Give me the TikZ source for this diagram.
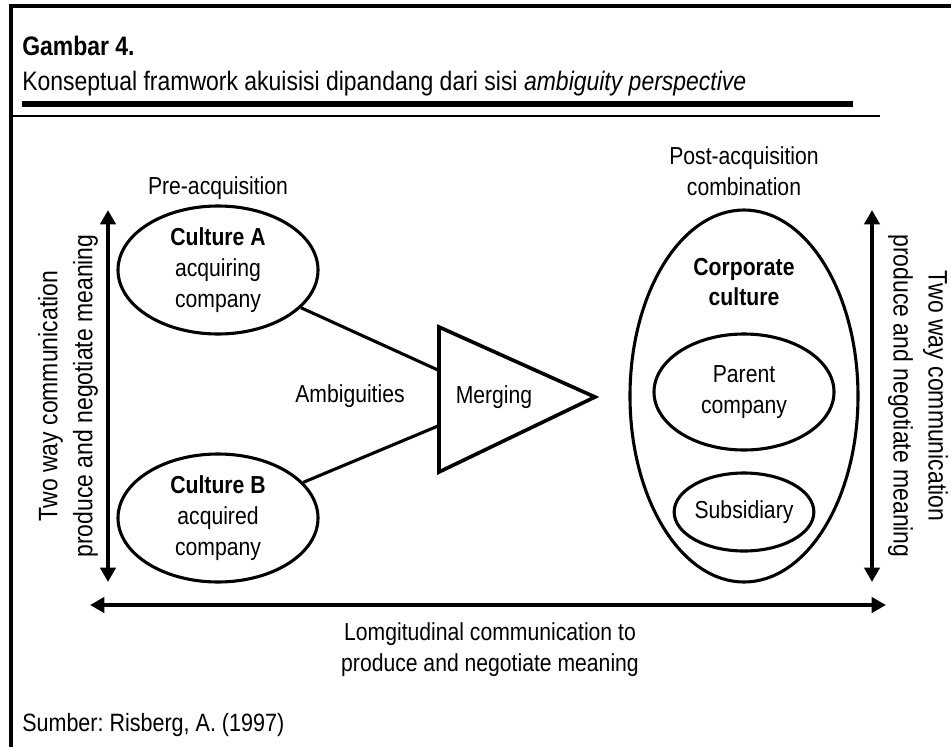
\documentclass[tikz,border=0pt]{standalone}
\usepackage{fontspec}
\setmainfont{Liberation Sans}[FakeStretch=0.86]
\usetikzlibrary{calc,arrows.meta,shapes.geometric}
\frenchspacing

\begin{document}
\begin{tikzpicture}[
    >={Triangle[length=3.6mm,width=3.8mm]},
    txt/.style={inner sep=0,align=center,font=\fontsize{17.5}{22}\selectfont},
    head/.style={txt,font=\fontsize{19}{23}\selectfont},
    side/.style={txt,font=\fontsize{19}{25}\selectfont},
    cult/.style={txt,ellipse,draw=black,line width=2.2pt},
    conn/.style={line width=2.2pt},
    comm/.style={<->,line width=3pt}
    ]
    \useasboundingbox (0,0) rectangle (23.775,-18.675);

    % frame and title rules
    \draw [line width=3pt] (0.275,-18.675) -- (0.275,-0.15) -- (23.775,-0.15);
    \draw [line width=3.6pt] (0.55,-2.6) -- (21.325,-2.6);
    \draw [line width=2pt] (0.275,-2.9) -- (22.0,-2.9);

    \node [head,anchor=base west] (fig) at (0.55,-1.375) {\bfseries Gambar 4.};
    \node [head,anchor=base west] (title) at (0.55,-2.25)
      {Konseptual framwork akuisisi dipandang dari sisi \textit{ambiguity perspective}};
    \node [head,font=\fontsize{17.8}{22}\selectfont,anchor=base west] (src) at (0.55,-18.275)
      {Sumber: Risberg, A. (1997)};

    % headings
    \node [txt] (pre) at (5.45,-4.7) {Pre-acquisition};
    \node [txt] (post) at (18.6,-4.28) {Post-acquisition\\combination};

    % cultures before
    \node [cult,minimum width=5cm,minimum height=3.2cm] (cA) at (5.45,-6.75)
      {\bfseries Culture A\\acquiring\\company};
    \node [cult,minimum width=5cm,minimum height=3.2cm] (cB) at (5.45,-12.95)
      {\bfseries Culture B\\acquired\\company};
    \node [txt] (amb) at (8.75,-9.9) {Ambiguities};

    % merging
    \coordinate (tt) at (10.975,-8.175);
    \coordinate (tb) at (10.975,-11.8);
    \coordinate (tp) at (14.875,-9.925);
    \draw [line width=2.6pt,line join=miter] (tt) -- (tp) -- (tb) -- cycle;
    \node [txt] (merge) at (12.35,-9.925) {Merging};
    \coordinate (ja) at ($(tt)!0.3!(tb)$);
    \coordinate (jb) at ($(tt)!0.68!(tb)$);
    \draw [conn] (cA) -- (ja);
    \draw [conn] (cB) -- (jb);

    % corporate culture after
    \node [cult,minimum width=5.7cm,minimum height=9.3cm] (corp) at (18.6,-9.9) {};
    \node [txt] (corpt) at (18.6,-7.05) {\bfseries Corporate\\\bfseries culture};
    \node [cult,minimum width=4.5cm,minimum height=2.9cm] (par) at (18.6,-9.8)
      {Parent\\company};
    \node [cult,minimum width=3.4cm,minimum height=1.95cm] (sub) at (18.6,-12.8)
      {Subsidiary};

    % communication arrows
    \coordinate (lt) at (2.7,-5.25);
    \coordinate (lb) at (2.7,-14.55);
    \coordinate (rt) at (21.8,-5.25);
    \coordinate (rb) at (21.8,-14.55);
    \coordinate (hl) at (2.25,-15.125);
    \coordinate (hr) at (22.15,-15.125);
    \draw [comm] (lb) -- (lt);
    \draw [comm] (rb) -- (rt);
    \draw [comm] (hl) -- (hr);

    \node [side,rotate=90] (lcom) at (1.7,-9.9)
      {Two way communication\\produce and negotiate meaning};
    \node [side,rotate=-90] (rcom) at (22.95,-9.9)
      {Two way communication\\produce and negotiate meaning};
    \node [txt] (lon) at (12.25,-16.25)
      {Lomgitudinal communication to\\produce and negotiate meaning};
  \end{tikzpicture}
\end{document}
